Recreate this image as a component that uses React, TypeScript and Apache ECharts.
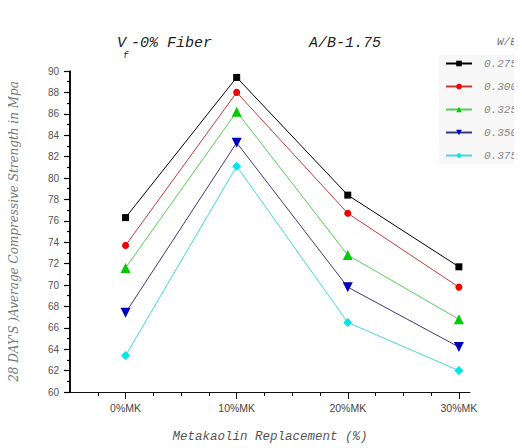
import React, { useEffect, useRef } from "react";
import * as echarts from "echarts";

const categories = ["0%MK", "10%MK", "20%MK", "30%MK"];
const categoryPositions = [1, 2, 3, 4];
const seriesNames = ["0.275", "0.300", "0.325", "0.350", "0.375"];
const wb275 = [76.3, 89.4, 78.4, 71.7];
const wb300 = [73.7, 88.0, 76.7, 69.8];
const wb325 = [71.6, 86.2, 72.8, 66.8];
const wb350 = [67.4, 83.3, 69.8, 64.2];
const wb375 = [63.4, 81.1, 66.5, 62.0];
const yMinorTicks = [61, 63, 65, 67, 69, 71, 73, 75, 77, 79, 81, 83, 85, 87, 89];

const allValues = [wb275, wb300, wb325, wb350, wb375];
const lineColors = ["#000000", "#c83a3a", "#55cc55", "#3a3a7a", "#44d8d8"];
const markerColors = ["#000000", "#ee0000", "#00cc00", "#0000bb", "#00e5e5"];
const symbols = ["rect", "circle", "triangle", "triangle", "diamond"];
const symbolSizes = [7, 7, 10, 10, 9];
const symbolRotates = [0, 0, 0, 180, 0];

const Y_MIN = 60;
const Y_MAX = 90;
const X_MIN = 0.5;
const X_MAX = 4.1;

export default function App() {
  const ref = useRef<HTMLDivElement>(null);
  useEffect(() => {
    if (!ref.current) return;
    const chart = echarts.init(ref.current, null, { renderer: "svg" });
    const quarters: number[] = [];
    for (let q = 0.75; q < X_MAX; q += 0.25) {
      const r = Math.round(q * 100) / 100;
      if (Math.abs(r - Math.round(r)) > 0.01) quarters.push(r);
    }
    chart.setOption({
      animation: false,
      grid: { left: 70, right: 52, top: 71, bottom: 55, containLabel: false },
      graphic: [
        { type: "text", left: 117, top: 36, style: { text: "V", font: "italic 15px 'Liberation Mono'", fill: "#222" } },
        { type: "text", left: 123, top: 51, style: { text: "f", font: "italic 9px 'Liberation Mono'", fill: "#222" } },
        { type: "text", left: 131, top: 36, style: { text: "-0% Fiber", font: "italic 15px 'Liberation Mono'", fill: "#222" } },
        { type: "text", left: 309, top: 36, style: { text: "A/B-1.75", font: "italic 15px 'Liberation Mono'", fill: "#222" } },
        { type: "text", left: 497, top: 36, style: { text: "W/B", font: "italic 11px 'Liberation Mono'", fill: "#777" } },
      ],
      legend: {
        orient: "vertical",
        left: 439,
        top: 55,
        itemWidth: 26,
        itemHeight: 7,
        itemGap: 12,
        padding: [3, 0, 3, 6],
        backgroundColor: "#f7f7f7",
        textStyle: {
          fontFamily: "Liberation Mono",
          fontStyle: "italic",
          fontSize: 11,
          color: "#888",
          padding: [0, 0, 0, 7],
        },
        data: seriesNames,
      },
      xAxis: [
        {
          type: "value",
          min: X_MIN,
          max: X_MAX,
          position: "bottom",
          name: "Metakaolin Replacement (%)",
          nameLocation: "middle",
          nameGap: 38,
          nameTextStyle: { fontFamily: "Liberation Mono", fontStyle: "italic", fontSize: 12.5, color: "#555" },
          splitLine: { show: false },
          axisLine: { show: true, onZero: false, lineStyle: { color: "#111", width: 1 } },
          axisTick: { show: true, inside: false, length: 7, customValues: categoryPositions, lineStyle: { color: "#111" } },
          axisLabel: {
            customValues: categoryPositions,
            margin: 10,
            fontFamily: "Liberation Sans",
            fontSize: 10.5,
            color: "#444",
            formatter: (v: number) => categories[Math.round(v) - 1] ?? "",
          },
        },
        {
          type: "value",
          min: X_MIN,
          max: X_MAX,
          position: "bottom",
          offset: 0,
          splitLine: { show: false },
          axisLine: { show: false, onZero: false },
          axisTick: { show: true, inside: false, length: 4, customValues: quarters, lineStyle: { color: "#111" } },
          axisLabel: { show: false },
        },
      ],
      yAxis: [
        {
          type: "value",
          position: "left",
          min: Y_MIN,
          max: Y_MAX,
          interval: 2,
          name: "28 DAY'S )Average Compressive Strength in Mpa",
          nameLocation: "middle",
          nameGap: 50,
          nameRotate: 90,
          nameTextStyle: { fontFamily: "DejaVu Serif", fontStyle: "italic", fontSize: 12, color: "#777" },
          splitLine: { show: false },
          axisLine: { show: true, onZero: false, lineStyle: { color: "#000", width: 1.5 } },
          axisTick: { show: true, inside: false, length: 6, lineStyle: { color: "#000", width: 1.2 } },
          axisLabel: {
            margin: 11,
            fontFamily: "Liberation Sans",
            fontSize: 10,
            color: "#555",
          },
        },
        {
          type: "value",
          position: "left",
          offset: 0,
          min: Y_MIN,
          max: Y_MAX,
          splitLine: { show: false },
          axisLine: { show: false, onZero: false },
          axisTick: { show: true, inside: false, length: 3, customValues: yMinorTicks, lineStyle: { color: "#000", width: 1.2 } },
          axisLabel: { show: false },
        },
      ],
      series: [
        ...seriesNames.map((name, s) => ({
          name,
          type: "line",
          xAxisIndex: 0,
          yAxisIndex: 0,
          data: allValues[s].map((v, i) => [categoryPositions[i], v]),
          symbol: symbols[s],
          symbolSize: symbolSizes[s],
          symbolRotate: symbolRotates[s],
          lineStyle: { color: lineColors[s], width: 1 },
          itemStyle: { color: markerColors[s] },
          emphasis: { disabled: true },
        })),
        {
          name: "yAxisLine",
          type: "line",
          xAxisIndex: 0,
          yAxisIndex: 0,
          clip: false,
          silent: true,
          symbol: "none",
          data: [
            [X_MIN, Y_MIN],
            [X_MIN, Y_MAX],
          ],
          lineStyle: { color: "#000", width: 1.5 },
          z: 10,
        },
      ],
    });
    return () => chart.dispose();
  }, []);
  return <div ref={ref} style={{ width: 522, height: 448, marginLeft: -8, marginTop: -8, background: "#fff" }} />;
}
